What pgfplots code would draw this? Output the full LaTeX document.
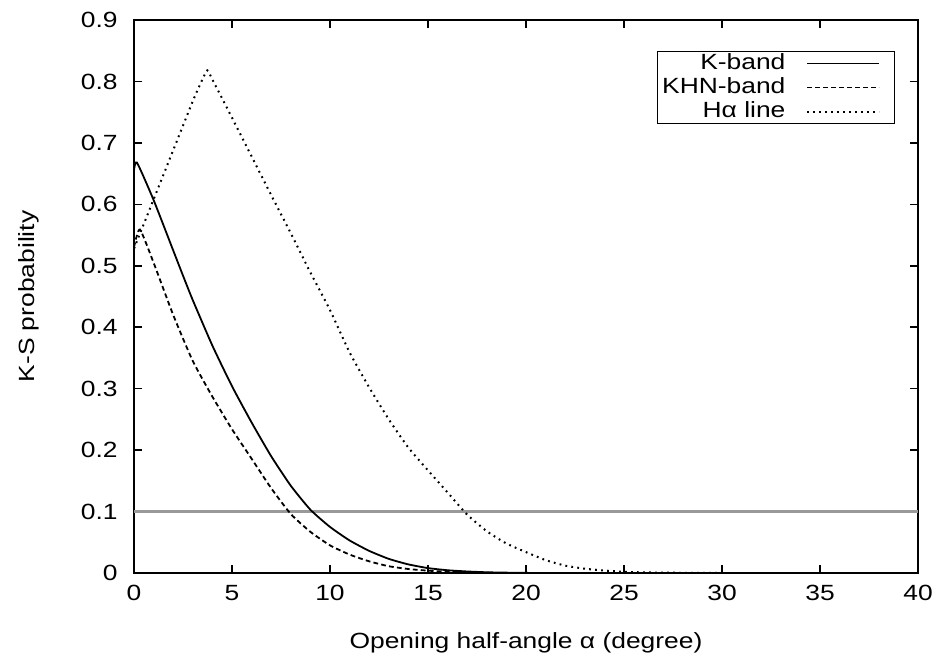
\documentclass[border=0pt]{standalone}
\usepackage{fontspec}
\setmainfont{Liberation Sans}[FakeStretch=1.2]
\usepackage{pgfplots}
\pgfplotsset{compat=1.18}

\begin{document}
\begin{tikzpicture}
\begin{axis}[
    scale only axis,
    width=392pt, height=276.5pt,
    xmin=0, xmax=40, ymin=0, ymax=0.9,
    xtick={0,5,10,15,20,25,30,35,40},
    ytick={0,0.1,0.2,0.3,0.4,0.5,0.6,0.7,0.8,0.9},
    font=\fontsize{11}{13}\selectfont,
    /pgf/number format/assume math mode=true,
    yticklabel style={/pgf/number format/fixed, /pgf/number format/precision=1, xshift=-4.7pt},
    xticklabel style={yshift=-2.5pt},
    tick align=inside,
    major tick length=4pt,
    tick style={black, line width=0.75pt},
    axis line style={line width=0.75pt},
    xlabel={Opening half-angle α (degree)},
    ylabel={K-S probability},
    xlabel style={at={(axis description cs:0.5,0)}, anchor=center, yshift=-35pt},
    ylabel style={at={(axis description cs:-0.134,0.5)}, anchor=center},
    legend plot pos=right,
    legend cell align=right,
    legend image code/.code={\draw[#1] (0pt,0pt) -- (36pt,0pt); \path (42pt,0pt);},
    legend style={at={(rel axis cs:1,1)}, anchor=north east, xshift=-11.5pt, yshift=-15.5pt,
        draw=black, line width=0.6pt, inner xsep=1pt, inner ysep=0pt, row sep=0pt,
        font=\fontsize{11}{13}\selectfont,
        nodes={text height=7.5pt, text depth=2pt, inner ysep=1.25pt, inner xsep=1.5pt},
        /tikz/every odd column/.append style={column sep=9pt}},
]
% threshold at 0.1
\addplot[forget plot, color=black!40, line width=1.2pt] coordinates {(0,0.1) (40,0.1)};

% K-band
\addplot[black, line width=0.9pt, smooth, tension=0.35] coordinates {
(0,0.655) (0.15,0.668) (1,0.607) (2,0.525) (2.5,0.484) (3,0.444) (4,0.37)
(5,0.304) (6,0.245) (7,0.19) (8,0.142) (9,0.103) (10,0.075) (11,0.053)
(12,0.036) (13,0.023) (14,0.014) (15,0.008) (16,0.0045) (17,0.0025)
(18,0.0012) (19,0.0006) (20,0.0002) (22,0) (40,0)};
\addlegendentry{K-band}

% KHN-band
\addplot[black, line width=0.9pt, dash pattern=on 2.4pt off 1.6pt, smooth, tension=0.35] coordinates {
(0,0.53) (0.3,0.559) (1,0.505) (2,0.42) (3,0.345) (4,0.287) (5,0.234)
(6,0.186) (7,0.138) (8,0.096) (9,0.067) (10,0.045) (11,0.03) (12,0.019)
(13,0.011) (14,0.0065) (15,0.0038) (16,0.002) (17,0.001) (18,0.0004)
(20,0) (40,0)};
\addlegendentry{KHN-band}

% Halpha line
\addplot[black, line width=1pt, dash pattern=on 0.9pt off 2.1pt, smooth, tension=0.35] coordinates {
(0,0.528) (1,0.608) (2,0.688) (3,0.768) (3.4,0.797) (3.74,0.818) (4,0.803)
(5,0.741) (6,0.678) (7,0.615) (8,0.553) (9,0.489) (10,0.428) (11,0.359)
(12,0.302) (13,0.25) (14,0.204) (15,0.167) (16,0.131) (17,0.095) (18,0.068)
(19,0.048) (20,0.034) (21,0.021) (22,0.012) (23,0.007) (24,0.004) (25,0.002)
(26,0.001) (28,0.0003) (30,0) (40,0)};
\addlegendentry{Hα line}

\coordinate (O) at (rel axis cs:0,0);
\coordinate (T) at (rel axis cs:1,1);
\end{axis}
\pgfresetboundingbox
\path ([xshift=-67pt,yshift=-45pt]O) rectangle ([xshift=11pt,yshift=10pt]T);
\end{tikzpicture}
\end{document}
